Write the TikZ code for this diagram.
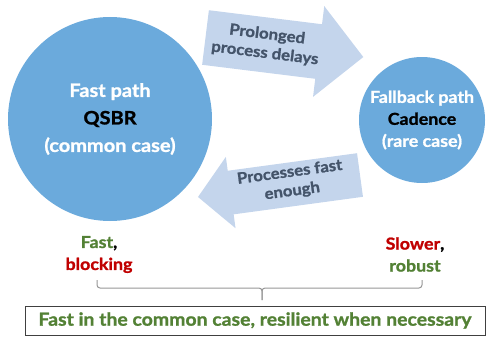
\documentclass[tikz,border=0pt]{standalone}
\usepackage{fontspec}
\setmainfont{Lato}[FakeStretch=1.08, BoldFeatures={FakeBold=1.2}]
\definecolor{pathblue}{RGB}{107,170,220}
\definecolor{arrowblue}{RGB}{196,213,236}
\definecolor{arrowtext}{RGB}{68,84,106}
\definecolor{goodgreen}{RGB}{83,129,53}
\definecolor{badred}{RGB}{192,0,0}
\definecolor{bracegray}{RGB}{150,150,150}
\definecolor{boxgray}{RGB}{64,64,64}
\tikzset{
  pathcircle/.style={circle, fill=pathblue, inner sep=0pt, align=center},
  arrowlabel/.style={text=arrowtext, align=center, font=\bfseries\fontsize{15.5}{19}\selectfont},
  tradeoff/.style={align=center, font=\bfseries\fontsize{16.5}{22}\selectfont},
}
\begin{document}
\begin{tikzpicture}[x=1pt,y=-1pt]
  \useasboundingbox (0,0) rectangle (486,337);
  % the two reclamation paths
  \node[pathcircle, minimum size=204, font=\bfseries\fontsize{18.5}{27.5}\selectfont] (fast) at (110,119)
    {\textcolor{white}{Fast path}\\QSBR\\\textcolor{white}{(common case)}};
  \node[pathcircle, minimum size=126, font=\bfseries\fontsize{16.5}{22}\selectfont] (slow) at (422,120)
    {\textcolor{white}{Fallback path}\\Cadence\\\textcolor{white}{(rare case)}};
  % block arrows between them
  \begin{scope}[shift={(205.5,37.5)}, rotate=-7.06]
    \fill[arrowblue] (0,-27.5) -- (114,-27.5) -- (114,-45.75) -- (159,0)
      -- (114,45.75) -- (114,27.5) -- (0,27.5) -- cycle;
  \end{scope}
  \begin{scope}[shift={(360,175)}, rotate=187.73]
    \fill[arrowblue] (0,-22) -- (130.5,-22) -- (130.5,-36) -- (163.5,0)
      -- (130.5,36) -- (130.5,22) -- (0,22) -- cycle;
  \end{scope}
  \node[arrowlabel, rotate=-7] (delays) at (266,44) {Prolonged\\process delays};
  \node[arrowlabel, rotate=7.7] (enough) at (291,182) {Processes fast\\enough};
  % trade-offs
  \node[tradeoff] (fastside) at (99,254.5) {\textcolor{goodgreen}{Fast},\\\textcolor{badred}{blocking}};
  \node[tradeoff] (slowside) at (415,254.5) {\textcolor{badred}{Slower},\\\textcolor{goodgreen}{robust}};
  \coordinate (braceL) at (97,280);
  \coordinate (braceR) at (422,280);
  \coordinate (braceTip) at (262,300);
  \draw[bracegray, line width=1pt, rounded corners=3pt] (braceL) |- (braceTip |- 0,288) -- (braceTip);
  \draw[bracegray, line width=1pt, rounded corners=3pt] (braceR) |- (braceTip |- 0,288) -- (braceTip);
  \node[draw=boxgray, line width=1pt, minimum width=460, minimum height=29, text=goodgreen,
    font=\bfseries\fontsize{18}{21}\selectfont] (motto) at (255,320.5)
    {Fast in the common case, resilient when necessary};
\end{tikzpicture}
\end{document}
